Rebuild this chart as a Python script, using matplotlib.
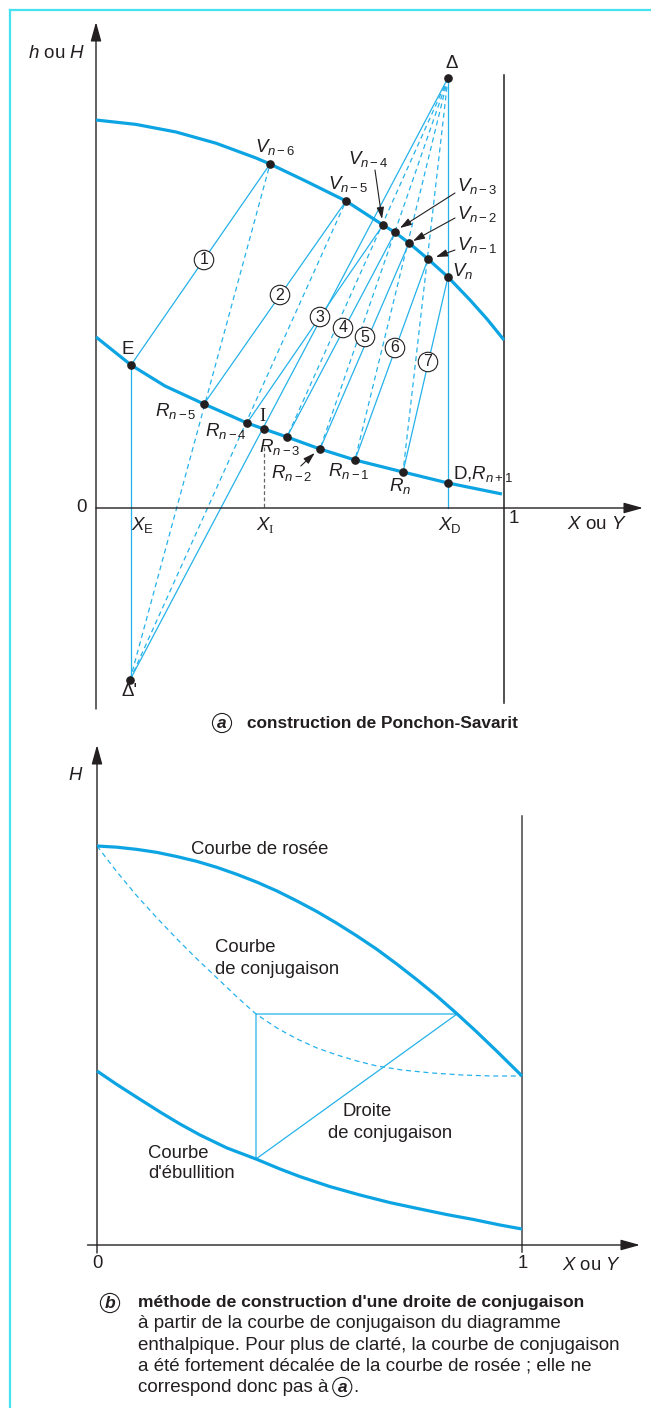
import matplotlib
matplotlib.use("Agg")
import matplotlib.pyplot as plt

plt.rcParams['font.family'] = 'Liberation Sans'
plt.rcParams['mathtext.fontset'] = 'custom'
plt.rcParams['mathtext.rm'] = 'Liberation Sans'
plt.rcParams['mathtext.it'] = 'Liberation Sans:italic'
plt.rcParams['mathtext.bf'] = 'Liberation Sans:bold'
plt.rcParams['mathtext.sf'] = 'Liberation Serif'

# ---------------------------------------------------------------------------
# (a) Ponchon-Savarit construction: X in mole fraction, h in arbitrary units
# ---------------------------------------------------------------------------
vap_X = [0.0, 0.098, 0.1961, 0.2941, 0.3922, 0.4265, 0.5147, 0.6127, 0.7034,
         0.7328, 0.7672, 0.8137, 0.8627, 0.9167, 0.9583, 1.0]
vap_h = [97.0, 95.9, 94.0, 91.2, 87.5, 86.0, 81.7, 76.75, 70.75,
         68.9, 66.25, 62.25, 57.75, 52.0, 47.25, 42.0]
liq_X = [0.0, 0.0858, 0.1691, 0.2647, 0.3701, 0.4118, 0.4681, 0.549, 0.6348, 0.7525, 0.8627, 0.995]
liq_h = [42.75, 35.75, 30.5, 26.0, 21.25, 19.75, 17.75, 14.75, 12.0, 9.0, 6.25, 3.5]

# vapour stages V(n-6) .. V(n)
V_X = [0.4265, 0.6127, 0.7034, 0.7328, 0.7672, 0.8137, 0.8627]
V_h = [86.0, 76.75, 70.75, 68.9, 66.25, 62.25, 57.75]
V_names = ['n-6', 'n-5', 'n-4', 'n-3', 'n-2', 'n-1', 'n']
# liquid stages E, R(n-5) .. R(n), then D = R(n+1)
R_X = [0.0858, 0.2647, 0.3701, 0.4681, 0.549, 0.6348, 0.7525]
R_h = [35.75, 26.0, 21.25, 17.75, 14.75, 12.0, 9.0]
I_pt = (0.4118, 19.75)
D_pt = (0.8627, 6.25)
delta = (0.8627, 107.5)
delta_p = (0.0833, -43.0)
X_E, X_I, X_D = 0.0858, 0.4118, 0.8627

# circled stage numbers (position along each tie line)
tie_num_X = [0.2647, 0.451, 0.549, 0.6054, 0.6593, 0.7328, 0.8137]
tie_num_h = [62.0, 53.25, 47.75, 45.0, 42.75, 40.0, 36.5]

# ---------------------------------------------------------------------------
# (b) conjugate curve construction
# ---------------------------------------------------------------------------
dew_X = [0.0, 0.0471, 0.0941, 0.1412, 0.1882, 0.2353, 0.2824, 0.3294, 0.3765, 0.4235, 0.4706,
         0.5176, 0.5647, 0.6118, 0.6588, 0.7059, 0.7529, 0.8, 0.8471, 0.8941, 0.9412, 1.0]
dew_H = [99.75, 99.45, 98.9, 98.15, 97.1, 95.9, 94.4, 92.65, 90.7, 88.5, 86.0,
         83.35, 80.4, 77.25, 73.9, 70.2, 66.3, 62.2, 57.8, 53.2, 48.4, 42.25]
conj_X = [0.0, 0.0471, 0.0941, 0.1412, 0.1882, 0.2353, 0.2824, 0.3294, 0.3741, 0.4235,
          0.4706, 0.5176, 0.5647, 0.6118, 0.6588, 0.7176, 0.7882, 0.8588, 0.9294, 1.0]
conj_H = [99.75, 93.25, 87.25, 81.75, 76.5, 71.5, 66.75, 62.0, 57.75, 54.25,
          51.5, 49.25, 47.5, 46.0, 44.75, 43.75, 43.0, 42.5, 42.25, 42.25]
bub_X = [0.0, 0.0471, 0.0941, 0.1482, 0.1953, 0.2424, 0.3059, 0.3741, 0.4306, 0.4776,
         0.5482, 0.6188, 0.6894, 0.76, 0.8235, 0.8847, 0.9482, 1.0]
bub_H = [43.5, 40.1, 36.9, 33.25, 30.25, 27.5, 24.25, 21.5, 19.0, 17.1,
         14.6, 12.5, 10.6, 9.0, 7.6, 6.4, 5.0, 4.0]
tri_liq = (0.3741, 21.5)
tri_conj = (0.3741, 57.75)
tri_vap = (0.8471, 57.75)

W, H = 651, 1408
CURVE = '#0ca4e2'
THIN = '#25b2ea'
INK = '#231f20'
AXC = '#444444'

fig = plt.figure(figsize=(W / 100, H / 100), dpi=100)

# frame rule at top and left
fig.add_artist(plt.Line2D([9.5 / W, 1.0], [1 - 9.5 / H] * 2, color='#45e3f0', lw=1.6))
fig.add_artist(plt.Line2D([9.5 / W] * 2, [0, 1 - 9.5 / H], color='#45e3f0', lw=1.6))


def axis_arrow(ax, tail, tip):
    ax.annotate('', xy=tip, xytext=tail,
                arrowprops=dict(arrowstyle='-|>,head_length=0.9,head_width=0.25',
                                color=INK, lw=1.0, shrinkA=0, shrinkB=0,
                                mutation_scale=13))


def pointer(ax, tail, head):
    ax.annotate('', xy=head, xytext=tail,
                arrowprops=dict(arrowstyle='-|>,head_length=0.7,head_width=0.22',
                                color=INK, lw=0.8, shrinkA=0, shrinkB=0,
                                mutation_scale=10))


thick = dict(color=CURVE, lw=2.3, solid_capstyle='butt', solid_joinstyle='round', zorder=3)
thin = dict(color=THIN, lw=0.9, zorder=2)
dash = dict(color=THIN, lw=0.9, ls=(0, (4, 3)), zorder=2)

# ----------------------------- panel (a) -----------------------------------
ax = fig.add_axes([0, 1 - 740 / H, 1, 740 / H])
ax.set_xlim(-96 / 408, (W - 96) / 408)
ax.set_ylim((508 - 740) / 4, 508 / 4)
ax.axis('off')

axis_arrow(ax, (0, -50.25), (0, 121.5))
axis_arrow(ax, (0, 0), (1.3407, 0))
ax.plot([1, 1], [108.25, -48.75], color=INK, lw=1.1)

ax.plot(vap_X, vap_h, **thick)
ax.plot(liq_X, liq_h, **thick)

# tie lines (solid)
for i in range(7):
    ax.plot([R_X[i], V_X[i]], [R_h[i], V_h[i]], **thin)
# feed line through I, and the two verticals
ax.plot([delta_p[0], delta[0]], [delta_p[1], delta[1]], **thin)
ax.plot([X_E, X_E], [R_h[0], delta_p[1]], **thin)
ax.plot([X_D, X_D], [delta[1], 0], **thin)
# operating lines, stripping section (through delta')
for i in (0, 1):
    ax.plot([delta_p[0], V_X[i]], [delta_p[1], V_h[i]], **dash)
# operating lines, rectifying section (through delta)
for i in range(3, 7):
    ax.plot([delta[0], R_X[i]], [delta[1], R_h[i]], **dash)

ax.plot([X_I, X_I], [15.25, 0], color='#666666', lw=0.9, ls=(0, (3, 2)))

pts_X = V_X + R_X + [I_pt[0], D_pt[0], delta[0], delta_p[0]]
pts_h = V_h + R_h + [I_pt[1], D_pt[1], delta[1], delta_p[1]]
ax.plot(pts_X, pts_h, 'o', color=INK, ms=5.2, zorder=5)

for k, (x, y) in enumerate(zip(tie_num_X, tie_num_h)):
    ax.text(x, y, str(k + 1), fontsize=11.5, color=INK, ha='center', va='center',
            zorder=6, bbox=dict(boxstyle='circle,pad=0.14', fc='white', ec=INK, lw=0.8))

FS = 13.5
lab = dict(fontsize=FS, color=INK, ha='center', va='center')
ax.text(-0.0956, 113.75, r'$h$ ou $H$', **lab)
ax.text(-0.022, 0, '0', fontsize=FS, color=INK, ha='right', va='center')
ax.text(0.115, -4.25, r'$X_{\mathrm{E}}$', **lab)
ax.text(0.414, -4.25, r'$X_{\mathsf{I}}$', **lab)
ax.text(0.8676, -4.25, r'$X_{\mathrm{D}}$', **lab)
ax.text(1.0245, -2.75, '1', **lab)
ax.text(1.228, -4.25, r'$X$ ou $Y$', **lab)
ax.text(0.8725, 111.0, 'Δ', **lab)
ax.text(0.0833, -46.0, "Δ'", **lab)
ax.text(0.0784, 39.75, 'E', **lab)
ax.text(0.4069, 22.75, 'I', fontsize=FS, color=INK, ha='center', va='center',
        family='Liberation Serif')

V_lab_X = [0.4387, 0.6176, 0.6667, 0.9338, 0.9338, 0.9338, 0.8995]
V_lab_h = [90.25, 81.0, 87.25, 80.5, 73.5, 65.75, 59.25]
for name, x, y in zip(V_names, V_lab_X, V_lab_h):
    ax.text(x, y, r'$V_{%s}$' % name, **lab)

R_names = ['n-5', 'n-4', 'n-3', 'n-2', 'n-1', 'n']
R_lab_X = [0.196, 0.3186, 0.451, 0.480, 0.620, 0.745]
R_lab_h = [24.25, 19.25, 15.25, 8.75, 9.25, 5.5]
for name, x, y in zip(R_names, R_lab_X, R_lab_h):
    ax.text(x, y, r'$R_{%s}$' % name, **lab)
ax.text(0.9485, 8.5, r'D,$R_{n+1}$', **lab)

pointer(ax, (0.6838, 84.5), (0.701, 72.25))
pointer(ax, (0.8799, 78.75), (0.745, 70.0))
pointer(ax, (0.8799, 72.5), (0.777, 66.75))
pointer(ax, (0.8799, 64.5), (0.833, 62.75))
pointer(ax, (0.502, 10.5), (0.536, 13.75))

# ----------------------------- panel (b) -----------------------------------
bx = fig.add_axes([0, 0, 1, 668 / H])
bx.set_xlim(-97 / 425, (W - 97) / 425)
bx.set_ylim((1245 - H) / 4, (1245 - 740) / 4)
bx.axis('off')

axis_arrow(bx, (0, -2.0), (0, 125.0))
axis_arrow(bx, (-0.0224, 0), (1.2776, 0))
bx.plot([1, 1], [107.25, -1.75], color=AXC, lw=1.1)

bx.plot(dew_X, dew_H, **thick)
bx.plot(bub_X, bub_H, **thick)
bx.plot(conj_X, conj_H, **dash)
bx.plot([tri_liq[0], tri_conj[0], tri_vap[0], tri_liq[0]],
        [tri_liq[1], tri_conj[1], tri_vap[1], tri_liq[1]], **thin)

FSB = 13.3
lab_b = dict(fontsize=FSB, color=INK, va='center', ha='left')
bx.text(-0.0494, 117.25, r'$H$', fontsize=FSB, color=INK, ha='center', va='center')
bx.text(0, -4.5, '0', fontsize=FSB, color=INK, ha='center', va='center')
bx.text(1.0024, -4.5, '1', fontsize=FSB, color=INK, ha='center', va='center')
bx.text(1.1624, -5.0, r'$X$ ou $Y$', fontsize=FSB, color=INK, ha='center', va='center')
bx.text(0.2212, 99.0, 'Courbe de rosée', **lab_b)
bx.text(0.2776, 74.25, 'Courbe', **lab_b)
bx.text(0.2776, 68.75, 'de conjugaison', **lab_b)
bx.text(0.5788, 33.5, 'Droite', **lab_b)
bx.text(0.5435, 27.75, 'de conjugaison', **lab_b)
bx.text(0.12, 22.75, 'Courbe', **lab_b)
bx.text(0.12, 17.75, "d'ébullition", **lab_b)


# ----------------------------- captions ------------------------------------
def fx(px):
    return px / W


def fy(py):
    return 1 - py / H


circ = dict(boxstyle='circle,pad=0.12', fc='white', ec=INK, lw=0.8)
fig.text(fx(222), fy(723), 'a', fontsize=12.4, fontweight='bold', fontstyle='italic',
         color=INK, ha='center', va='center', bbox=circ)
fig.text(fx(247), fy(723), 'construction de Ponchon-Savarit', fontsize=12.4,
         fontweight='bold', color=INK, ha='left', va='center')

fig.text(fx(110), fy(1303), 'b', fontsize=12.6, fontweight='bold', fontstyle='italic',
         color=INK, ha='center', va='center', bbox=circ)
fig.text(fx(137.5), fy(1303), "méthode de construction d'une droite de conjugaison",
         fontsize=12.6, fontweight='bold', color=INK, ha='left', va='center')
cap_lines = ["à partir de la courbe de conjugaison du diagramme",
             "enthalpique. Pour plus de clarté, la courbe de conjugaison",
             "a été fortement décalée de la courbe de rosée ; elle ne",
             "correspond donc pas à "]
last = None
for k, line in enumerate(cap_lines):
    last = fig.text(fx(137.5), fy(1324 + 21 * k), line, fontsize=13.5, color=INK,
                    ha='left', va='center')

fig.canvas.draw()
bb = last.get_window_extent()
a_x = bb.x1 + 9
fig.text(a_x / W, fy(1387), 'a', fontsize=12.4, fontweight='bold', fontstyle='italic',
         color=INK, ha='center', va='center', bbox=circ)
fig.text((a_x + 11) / W, fy(1387), '.', fontsize=13.5, color=INK, ha='left', va='center')

fig.savefig('out.png', dpi=100)
